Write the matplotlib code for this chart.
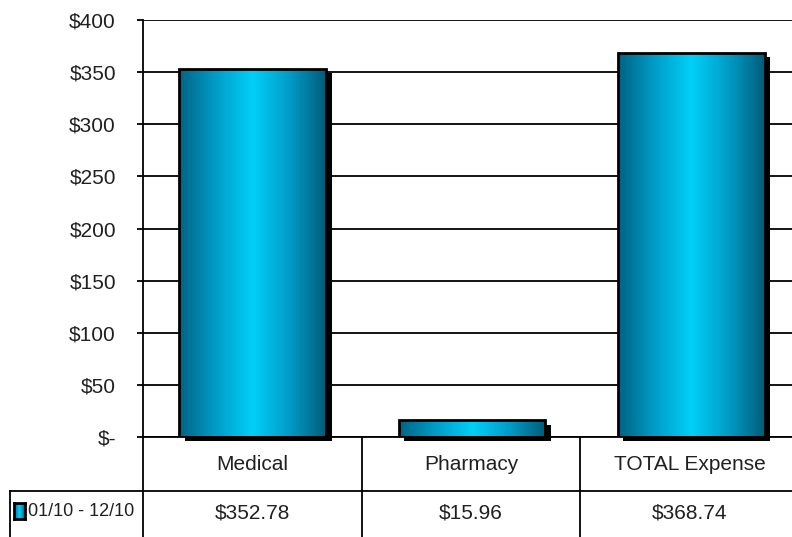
import numpy as np
import matplotlib.pyplot as plt
from matplotlib import patheffects
from matplotlib.colors import LinearSegmentedColormap
from matplotlib.lines import Line2D

# Data
categories = ['Medical', 'Pharmacy', 'TOTAL Expense']
values = [352.78, 15.96, 368.74]
series_name = '01/10 - 12/10'
yticks = [0, 50, 100, 150, 200, 250, 300, 350, 400]
ytick_labels = ['$-', '$50', '$100', '$150', '$200', '$250', '$300', '$350', '$400']

plt.rcParams['font.family'] = ['Liberation Sans Narrow', 'DejaVu Sans Condensed', 'Liberation Sans']
FS = 15
TXT = '#202020'

W, H = 792, 537
fig = plt.figure(figsize=(W / 100, H / 100), dpi=100)

# axes placed in pixel coords
left, right, top, bottom = 143, 801, 20, 437
ax = fig.add_axes([left / W, 1 - bottom / H, (right - left) / W, (bottom - top) / H])

ax.set_xlim(-0.5, 2.5)
ax.set_ylim(0, 400)
ax.set_yticks(yticks)
ax.set_yticklabels(ytick_labels, fontsize=FS, color=TXT)
ax.set_xticks([])
ax.tick_params(axis='y', direction='out', length=4.5, width=1.3, pad=15)
for s in ['top', 'right', 'bottom']:
    ax.spines[s].set_visible(False)
ax.spines['left'].set_linewidth(1.3)
ax.yaxis.grid(True, color='black', linewidth=1.3)
ax.set_axisbelow(True)

# cylinder-like shading across each bar
cmap = LinearSegmentedColormap.from_list(
    'cyl', ['#006384', '#009dc8', '#00d0f8', '#009dc8', '#005c7a'])
grad = np.linspace(0, 1, 256).reshape(1, -1)

x = np.arange(len(categories))
bw = 0.67
base = ax.bar(x, values, width=bw, color='black', zorder=2, clip_on=False,
              path_effects=[patheffects.SimplePatchShadow(offset=(4, -3), shadow_rgbFace='black', alpha=1.0),
                            patheffects.Normal()])
for rect, v in zip(base, values):
    x0 = rect.get_x()
    im = ax.imshow(grad, cmap=cmap, aspect='auto', zorder=3,
                   extent=[x0, x0 + bw, 0, v])
    im.set_clip_path(rect)
ax.bar(x, values, width=bw, facecolor='none', edgecolor='black', linewidth=2, zorder=4)
ax.set_xlim(-0.5, 2.5)
ax.set_ylim(0, 400)

# data table below the axes, drawn in pixel-based figure coords
def fx(px):
    return px / W

def fy(py):
    return 1 - py / H

row_mid = 491
col_edges = [143, 362, 580, 799]
lines = [
    ((143, 800), (437, 437)),
    ((10, 800), (row_mid, row_mid)),
    ((10, 10), (row_mid, 540)),
    ((143, 143), (437, 540)),
    ((362, 362), (437, 540)),
    ((580, 580), (437, 540)),
]
for (xa, xb), (ya, yb) in lines:
    fig.add_artist(Line2D([fx(xa), fx(xb)], [fy(ya), fy(yb)], color='black', linewidth=1.3))

for i, (c, v) in enumerate(zip(categories, values)):
    cx = (col_edges[i] + col_edges[i + 1]) / 2
    fig.text(fx(cx), fy(464), c, ha='center', va='center', fontsize=FS, color=TXT)
    fig.text(fx(cx), fy(513), f'${v:,.2f}', ha='center', va='center', fontsize=FS, color=TXT)

# legend key
key = fig.add_axes([fx(14), fy(519), fx(11), 16 / H])
key.imshow(grad, cmap=cmap, aspect='auto')
key.set_xticks([])
key.set_yticks([])
for s in key.spines.values():
    s.set_linewidth(2)
fig.text(fx(28), fy(512), series_name, ha='left', va='center', fontsize=13, color=TXT)

fig.savefig('out.png', dpi=100)
